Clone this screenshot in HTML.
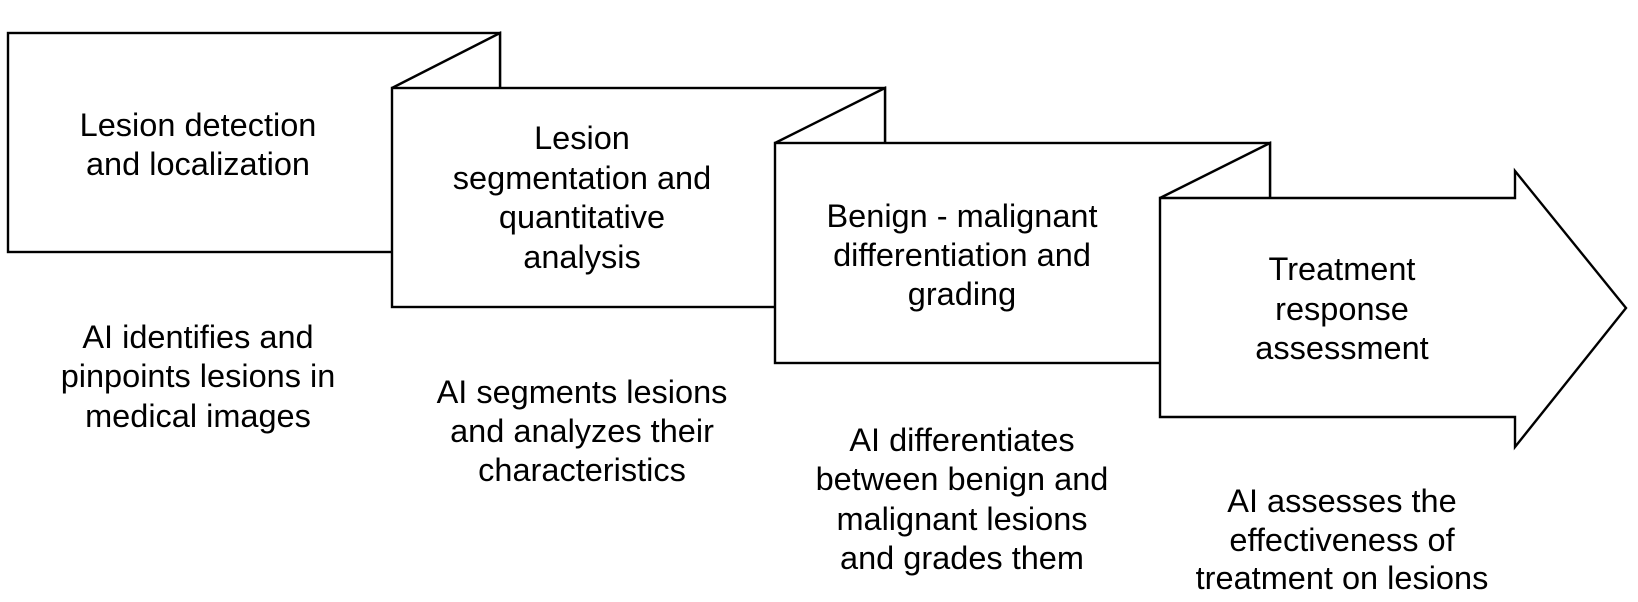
<!DOCTYPE html>
<html><head><style>html,body{margin:0;padding:0;background:#fff}svg{display:block}</style></head>
<body>
<svg width="1638" height="602" viewBox="0 0 1638 602" xmlns="http://www.w3.org/2000/svg">
<g fill="#fff" stroke="#000" stroke-width="2.4" stroke-linejoin="miter">
<rect x="8" y="33" width="492" height="219"/>
<polyline points="392,88 500,33 500,88"/>
<rect x="392" y="88" width="493" height="219"/>
<polyline points="775,143 885,88 885,143"/>
<rect x="775" y="143" width="495" height="220"/>
<polyline points="1160,198 1270,143 1270,198"/>
<polygon points="1160,198 1515,198 1515,171 1626,308 1515,447 1515,417 1160,417"/>
</g>
<g font-family="'Liberation Sans', 'DejaVu Sans', sans-serif" font-size="32.5" text-anchor="middle" dominant-baseline="central" fill="#000">
<text x="198" y="125">Lesion detection</text>
<text x="198" y="164">and localization</text>
<text x="198" y="337">AI identifies and</text>
<text x="198" y="376">pinpoints lesions in</text>
<text x="198" y="416">medical images</text>

<text x="582" y="138">Lesion</text>
<text x="582" y="178">segmentation and</text>
<text x="582" y="217">quantitative</text>
<text x="582" y="257">analysis</text>
<text x="582" y="392">AI segments lesions</text>
<text x="582" y="431">and analyzes their</text>
<text x="582" y="470">characteristics</text>

<text x="962" y="216">Benign - malignant</text>
<text x="962" y="255">differentiation and</text>
<text x="962" y="294">grading</text>
<text x="962" y="440">AI differentiates</text>
<text x="962" y="479">between benign and</text>
<text x="962" y="519">malignant lesions</text>
<text x="962" y="558">and grades them</text>

<text x="1342" y="269">Treatment</text>
<text x="1342" y="309">response</text>
<text x="1342" y="348">assessment</text>
<text x="1342" y="501">AI assesses the</text>
<text x="1342" y="540">effectiveness of</text>
<text x="1342" y="578">treatment on lesions</text>
</g>
</svg>
</body></html>
